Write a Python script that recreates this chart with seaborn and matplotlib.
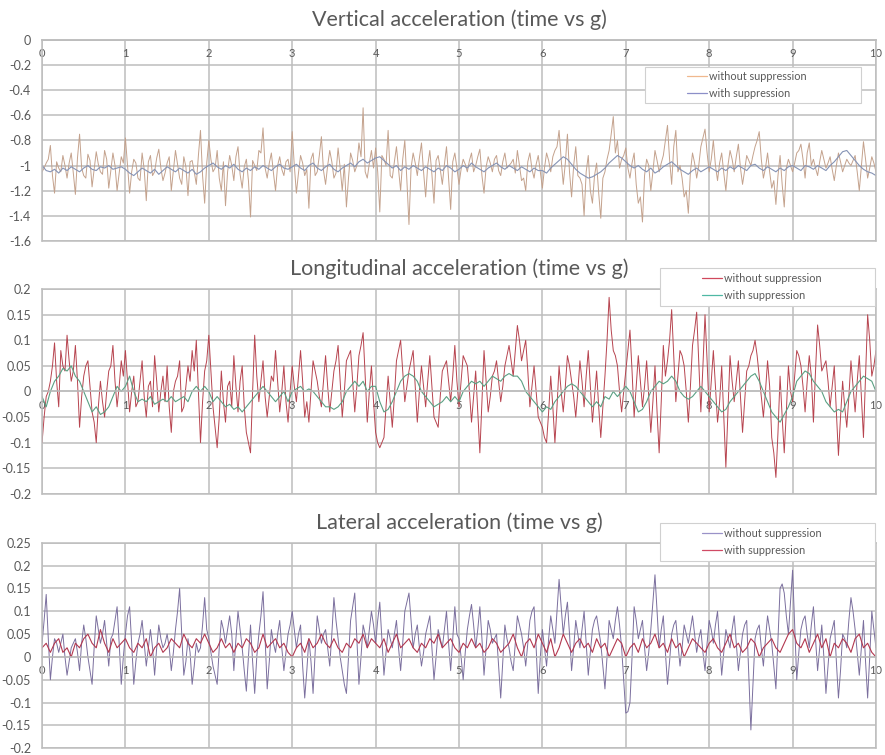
import numpy as np
import pandas as pd
import matplotlib
matplotlib.use("Agg")
import matplotlib.pyplot as plt
from matplotlib.patches import Rectangle
from matplotlib.lines import Line2D
import seaborn as sns

# ---------------- data ----------------
TIME_START, TIME_END = 0.0, 10.0
x_ticks = list(range(0, 11))
x_tick_labels = [str(v) for v in x_ticks]

titles = ["Vertical acceleration (time vs g)",
          "Longitudinal acceleration (time vs g)",
          "Lateral acceleration (time vs g)"]
series_names = ["without suppression", "with suppression"]

# "without" series: samples at every 0.05 s (main) and the in-between samples (mid)
vert_without = [
    -1.05, -0.98, -0.84, -1.22, -1.02, -0.92, -1.10, -0.90, -1.23, -0.75, -1.08, -0.91, -1.17, -0.89, -1.05, -0.88, -1.18, -0.90, -1.20, -0.93,
    -0.78, -1.22, -0.95, -1.10, -0.90, -1.28, -0.92, -1.05, -0.87, -1.12, -0.98, -1.20, -0.88, -1.10, -0.93, -1.24, -0.96, -1.15, -0.72, -1.30,
    -0.80, -1.05, -0.88, -1.20, -1.32, -0.92, -1.12, -0.85, -1.18, -0.95, -1.41, -1.00, -0.88, -0.70, -1.10, -0.90, -1.20, -0.93, -1.08, -0.95,
    -0.73, -1.22, -0.92, -1.08, -1.34, -0.90, -1.05, -0.77, -1.15, -0.88, -1.10, -0.86, -1.20, -1.33, -0.90, -1.05, -0.82, -0.54, -1.10, -0.88,
    -0.86, -1.37, -0.95, -0.72, -1.10, -0.85, -1.20, -0.80, -1.47, -0.90, -1.08, -0.82, -1.25, -0.88, -1.30, -0.92, -1.15, -0.85, -1.35, -0.90,
    -1.15, -0.95, -1.05, -0.90, -1.00, -0.87, -1.22, -0.93, -1.05, -0.92, -1.08, -0.90, -1.00, -0.95, -0.88, -1.12, -1.20, -0.90, -1.10, -0.92,
    -1.18, -0.90, -1.05, -0.88, -0.72, -1.15, -0.75, -1.25, -0.85, -1.10, -1.40, -0.92, -1.30, -0.98, -1.42, -1.05, -0.88, -0.61, -0.80, -0.95,
    -0.86, -1.10, -0.90, -1.30, -1.45, -0.95, -1.20, -0.88, -1.05, -0.92, -0.68, -1.15, -0.72, -1.00, -1.25, -1.38, -0.90, -1.10, -0.85, -0.71,
    -1.05, -0.80, -1.12, -0.90, -1.20, -0.88, -1.05, -0.83, -1.15, -0.92, -1.00, -0.85, -0.73, -1.10, -0.90, -1.18, -1.31, -0.92, -1.33, -0.95,
    -1.05, -0.90, -0.83, -1.10, -0.82, -0.95, -1.08, -0.88, -1.02, -0.93, -1.12, -0.90, -1.05, -0.95, -1.00, -0.92, -1.20, -0.81, -1.10, -0.93,
    -1.05]
vert_without_mid = [
    -1.02, -0.95, -1.08, -0.97, -1.05, -1.00, -0.98, -1.06, -0.94, -1.02, -1.10, -0.96, -1.03, -0.99, -1.07, -0.95, -1.04, -1.00, -1.06, -0.98,
    -1.00, -1.05, -0.98, -1.12, -1.03, -0.97, -1.08, -0.94, -1.02, -1.06, -0.93, -1.04, -0.99, -1.15, -1.01, -0.97, -1.05, -0.92, -1.08, -0.98,
    -0.95, -1.02, -1.10, -0.97, -1.05, -1.00, -0.93, -1.07, -1.01, -1.12, -0.96, -1.04, -0.90, -1.02, -0.98, -1.06, -1.00, -1.03, -0.97, -1.05,
    -1.00, -1.06, -0.98, -1.03, -0.95, -1.08, -0.92, -1.04, -1.00, -0.97, -1.06, -1.02, -0.99, -1.10, -0.96, -1.00, -0.93, -1.05, -0.98, -1.02,
    -1.05, -0.92, -1.00, -1.08, -0.97, -1.03, -0.95, -1.12, -1.02, -0.98, -0.94, -1.05, -1.00, -1.07, -0.96, -1.03, -0.99, -1.10, -0.97, -1.02,
    -1.03, -0.99, -0.96, -1.05, -0.93, -1.08, -1.01, -0.98, -0.95, -1.04, -0.97, -1.02, -0.98, -1.06, -1.00, -1.10, -0.97, -1.03, -0.99, -1.05,
    -1.02, -0.96, -0.93, -0.85, -0.95, -0.98, -1.05, -1.00, -1.08, -1.15, -1.05, -1.20, -1.08, -1.22, -1.10, -0.95, -0.75, -0.90, -1.02, -0.92,
    -1.02, -0.98, -1.15, -1.25, -1.08, -1.00, -1.05, -0.96, -0.98, -0.80, -0.95, -0.85, -1.05, -1.10, -1.20, -1.05, -0.98, -1.00, -0.78, -0.90,
    -0.95, -1.00, -0.98, -1.06, -1.00, -0.95, -0.93, -1.02, -1.04, -0.96, -0.92, -0.80, -0.95, -1.02, -1.05, -1.12, -1.08, -1.15, -1.02, -1.00,
    -0.98, -0.88, -0.95, -0.90, -1.00, -1.02, -0.97, -0.95, -0.98, -1.03, -1.00, -0.97, -1.00, -0.98, -0.96, -1.05, -1.00, -0.95, -1.02, -0.98]
vert_with = [
    -1.00, -1.04, -1.05, -1.03, -1.06, -1.02, -1.04, -1.01, -1.03, -1.05, -1.02, -1.00, -1.03, -1.04, -1.01, -1.02, -1.00, -1.03, -1.02, -1.01,
    -1.03, -1.06, -1.08, -1.05, -1.02, -1.04, -1.06, -1.03, -1.07, -1.04, -1.01, -1.03, -1.05, -1.02, -1.04, -1.06, -1.03, -1.07, -1.05, -1.02,
    -1.00, -0.98, -1.01, -1.03, -1.00, -1.02, -0.99, -1.03, -1.05, -1.02, -1.04, -1.01, -1.03, -1.00, -1.02, -1.04, -1.01, -0.99, -1.02, -1.03,
    -1.01, -0.99, -1.02, -1.04, -1.00, -0.98, -1.02, -1.04, -1.01, -0.99, -1.03, -1.05, -1.02, -1.00, -0.98, -1.01, -0.97, -0.95, -0.98, -0.96,
    -0.94, -0.93, -0.96, -0.99, -1.02, -1.00, -1.04, -1.01, -1.03, -1.00, -1.02, -1.04, -1.01, -1.03, -1.05, -1.02, -1.04, -1.00, -1.02, -1.05,
    -1.03, -1.00, -1.02, -0.98, -1.01, -1.03, -1.05, -1.02, -1.00, -0.98, -1.01, -1.03, -1.00, -1.02, -1.04, -1.01, -1.03, -1.05, -1.02, -1.04,
    -1.04, -1.06, -1.02, -0.99, -0.96, -0.93, -0.95, -0.99, -1.03, -1.06, -1.08, -1.10, -1.09, -1.07, -1.05, -1.02, -0.98, -0.95, -0.92, -0.94,
    -0.97, -1.00, -1.02, -1.00, -1.03, -1.05, -1.02, -1.06, -1.04, -1.01, -0.99, -0.97, -1.00, -1.03, -1.05, -1.07, -1.04, -1.02, -1.05, -1.03,
    -1.01, -1.03, -1.05, -1.02, -1.04, -1.01, -1.03, -1.00, -1.02, -1.04, -1.00, -0.99, -1.02, -1.04, -1.01, -1.03, -1.05, -1.02, -1.04, -1.01,
    -1.00, -1.02, -1.04, -1.00, -1.01, -1.03, -1.00, -1.02, -1.04, -1.00, -0.97, -0.93, -0.89, -0.88, -0.92, -0.96, -1.00, -1.03, -1.05, -1.06,
    -1.08]

long_without = [
    -0.10, -0.01, 0.02, 0.095, -0.03, 0.05, 0.11, 0.02, 0.09, -0.07, 0.03, 0.06, -0.04, -0.10, 0.02, -0.05, 0.04, 0.09, -0.03, 0.06,
    0.08, -0.04, 0.03, -0.02, 0.06, -0.05, 0.02, 0.07, -0.04, 0.03, 0.05, -0.08, 0.02, 0.06, -0.03, 0.05, 0.08, 0.10, -0.10, 0.04,
    0.11, -0.03, -0.11, 0.04, -0.06, 0.02, 0.07, -0.04, 0.05, -0.08, -0.12, 0.11, -0.02, 0.06, -0.05, 0.03, 0.08, -0.04, 0.05, -0.06,
    0.05, -0.02, 0.08, -0.05, -0.06, 0.06, 0.02, -0.03, 0.07, -0.04, 0.04, 0.09, -0.05, 0.06, 0.08, -0.04, 0.07, 0.115, -0.06, 0.05,
    -0.08, -0.11, -0.09, 0.03, -0.07, 0.06, 0.10, -0.02, 0.04, 0.08, -0.06, 0.05, -0.03, 0.07, -0.05, -0.07, 0.04, 0.06, -0.02, 0.09,
    -0.03, 0.07, 0.05, -0.06, 0.04, -0.12, 0.08, -0.04, 0.03, 0.06, -0.02, 0.05, 0.09, 0.03, 0.129, 0.06, 0.10, -0.03, 0.05, -0.05,
    -0.07, -0.10, 0.03, -0.10, 0.05, -0.04, 0.07, 0.02, -0.05, 0.06, -0.03, 0.08, -0.06, 0.04, -0.09, 0.03, 0.184, 0.08, 0.05, -0.04,
    0.04, 0.12, -0.05, 0.07, -0.03, 0.06, -0.08, 0.05, -0.12, 0.09, 0.06, 0.16, -0.02, 0.08, 0.05, -0.06, 0.09, 0.155, -0.04, 0.15,
    -0.04, 0.08, -0.06, 0.05, -0.148, 0.07, -0.02, 0.06, -0.08, 0.04, 0.07, 0.10, 0.03, -0.05, 0.06, -0.09, -0.168, 0.03, -0.12, 0.05,
    -0.02, 0.08, 0.05, -0.04, 0.07, -0.06, 0.13, 0.04, 0.06, -0.03, 0.05, -0.125, 0.02, -0.07, 0.06, -0.04, 0.07, -0.09, 0.15, 0.03,
    0.08]
long_without_mid = [
    -0.05, 0.00, 0.05, 0.02, 0.08, 0.04, 0.06, 0.04, 0.02, -0.01, 0.05, 0.01, -0.06, -0.03, -0.02, 0.00, 0.05, 0.02, 0.01, 0.03,
    0.02, 0.00, -0.03, 0.02, -0.01, 0.01, -0.03, 0.02, 0.00, -0.02, -0.03, 0.00, 0.03, -0.04, 0.01, 0.02, 0.04, 0.00, -0.02, 0.06,
    0.04, -0.07, -0.05, -0.02, 0.01, -0.03, 0.01, 0.02, -0.03, -0.10, 0.00, 0.03, 0.02, -0.01, -0.01, 0.02, 0.02, 0.00, -0.02, 0.00,
    0.01, 0.03, 0.02, -0.02, 0.00, 0.04, -0.01, 0.02, 0.01, 0.00, 0.06, 0.02, 0.00, 0.07, 0.02, 0.01, 0.09, 0.03, 0.00, -0.02,
    -0.10, -0.10, -0.03, -0.02, -0.01, 0.08, 0.04, 0.01, 0.06, 0.01, 0.00, 0.01, 0.02, 0.01, -0.06, -0.01, 0.05, 0.02, 0.03, 0.02,
    0.02, 0.06, 0.00, -0.01, -0.04, -0.02, 0.02, -0.01, 0.04, 0.02, 0.01, 0.07, 0.06, 0.08, 0.10, 0.08, 0.04, 0.01, 0.00, -0.06,
    -0.09, -0.04, -0.03, -0.03, 0.00, 0.01, 0.05, -0.01, 0.00, 0.02, 0.03, 0.01, -0.01, -0.03, -0.03, 0.10, 0.12, 0.07, 0.00, 0.00,
    0.08, 0.04, 0.01, 0.02, 0.01, -0.01, -0.02, -0.04, -0.02, 0.03, 0.10, 0.07, 0.03, 0.07, 0.00, 0.01, 0.12, 0.06, 0.05, 0.06,
    0.02, 0.01, -0.02, -0.05, -0.04, 0.02, 0.02, -0.01, -0.02, 0.05, 0.08, 0.07, -0.01, 0.00, 0.01, -0.12, -0.08, -0.05, -0.04, 0.00,
    0.03, 0.07, 0.01, 0.02, 0.03, 0.04, 0.09, 0.05, 0.02, 0.01, -0.04, -0.05, -0.03, -0.01, 0.01, 0.02, -0.01, 0.03, 0.10, 0.05]
long_with = [
    -0.01, -0.03, 0.00, 0.02, 0.03, 0.045, 0.04, 0.05, 0.03, 0.02, 0.00, -0.02, -0.04, -0.03, -0.045, -0.04, -0.03, -0.01, 0.01, 0.00,
    0.01, 0.03, 0.00, -0.02, -0.015, -0.02, -0.01, -0.025, -0.02, -0.015, -0.02, -0.01, -0.02, -0.015, -0.01, -0.02, 0.00, 0.01, 0.00, 0.01,
    0.00, -0.02, -0.01, -0.02, -0.03, -0.025, -0.035, -0.03, -0.04, -0.03, -0.02, -0.01, 0.00, 0.01, 0.00, -0.01, -0.02, -0.01, 0.00, -0.02,
    0.00, 0.005, 0.01, 0.00, 0.005, 0.00, -0.01, -0.02, -0.03, -0.03, -0.035, -0.03, -0.02, 0.00, 0.01, 0.02, 0.01, 0.02, 0.00, 0.01,
    0.01, -0.02, -0.04, -0.035, -0.02, 0.00, 0.02, 0.03, 0.035, 0.03, 0.02, 0.00, -0.01, -0.02, -0.03, -0.025, -0.02, -0.01, -0.02, -0.01,
    -0.02, 0.00, 0.01, 0.02, 0.015, 0.02, 0.01, 0.02, 0.03, 0.025, 0.02, 0.03, 0.035, 0.03, 0.03, 0.02, 0.00, -0.01, -0.02, -0.03,
    -0.04, -0.03, -0.035, -0.02, -0.01, 0.00, 0.01, 0.015, 0.01, 0.00, -0.01, -0.02, -0.03, -0.02, -0.03, -0.01, -0.015, 0.00, -0.01, 0.00,
    0.01, 0.00, -0.02, -0.04, -0.035, -0.02, 0.00, 0.01, 0.02, 0.015, 0.02, 0.03, 0.02, 0.00, -0.01, -0.015, -0.01, 0.00, 0.01, 0.00,
    -0.01, -0.02, -0.03, -0.04, -0.035, -0.02, -0.01, 0.00, 0.01, 0.02, 0.03, 0.035, 0.02, 0.00, -0.02, -0.04, -0.05, -0.06, -0.045, -0.03,
    -0.01, 0.02, 0.03, 0.04, 0.035, 0.02, 0.01, 0.00, -0.02, -0.03, -0.04, -0.035, -0.04, -0.02, 0.00, 0.01, 0.02, 0.03, 0.025, 0.02,
    0.00]

lat_without = [
    0.03, 0.137, -0.05, 0.04, 0.01, 0.05, -0.04, 0.02, 0.04, -0.03, 0.07, 0.00, -0.06, 0.09, 0.03, 0.08, -0.02, 0.05, 0.11, -0.06,
    0.05, 0.11, -0.06, 0.03, 0.08, -0.02, 0.06, -0.04, 0.07, 0.02, 0.05, -0.03, 0.06, 0.15, -0.04, 0.04, -0.06, 0.03, 0.02, 0.13,
    0.04, -0.02, -0.06, 0.08, 0.03, 0.09, -0.03, 0.10, 0.02, -0.075, 0.07, -0.08, 0.05, 0.143, -0.07, 0.06, 0.01, 0.08, -0.03, 0.05,
    0.10, 0.02, 0.07, -0.09, 0.04, -0.08, 0.09, 0.03, 0.06, -0.02, 0.13, 0.04, -0.03, -0.08, 0.08, 0.14, -0.06, 0.07, 0.02, 0.10,
    0.03, 0.12, -0.04, 0.06, 0.02, 0.08, -0.03, 0.10, 0.14, 0.02, 0.07, -0.02, 0.05, 0.09, -0.05, 0.06, 0.02, 0.10, -0.03, 0.11,
    0.04, -0.05, 0.06, 0.115, 0.02, 0.11, -0.04, 0.08, 0.03, 0.05, -0.09, 0.07, 0.02, -0.03, 0.09, 0.05, -0.02, 0.08, 0.11, -0.08,
    0.06, -0.02, 0.09, 0.03, 0.17, 0.05, 0.12, -0.03, 0.08, 0.02, 0.10, -0.04, 0.06, 0.09, 0.03, -0.07, 0.08, 0.04, 0.11, 0.02,
    -0.123, -0.10, 0.11, 0.04, 0.08, -0.03, 0.06, 0.18, 0.02, 0.09, -0.06, 0.05, 0.08, -0.02, 0.07, 0.03, 0.09, 0.01, 0.06, -0.03,
    0.08, 0.03, 0.10, -0.04, 0.06, 0.02, 0.09, -0.03, 0.05, 0.08, -0.16, 0.04, 0.07, -0.02, 0.09, 0.03, -0.07, 0.15, 0.14, 0.05,
    0.19, -0.05, 0.06, 0.09, 0.02, 0.11, -0.03, 0.07, -0.08, 0.04, 0.08, -0.09, 0.05, 0.02, 0.13, 0.06, -0.04, 0.08, -0.09, 0.10,
    0.02]
lat_without_mid = [
    0.08, 0.04, 0.00, 0.03, 0.03, 0.00, -0.01, 0.03, 0.01, 0.03, 0.04, -0.03, 0.02, 0.06, 0.05, 0.03, 0.04, 0.08, 0.03, 0.00,
    0.09, 0.03, -0.01, 0.05, 0.03, 0.02, 0.02, 0.02, 0.04, 0.03, 0.02, 0.01, 0.10, 0.05, -0.01, 0.01, -0.02, 0.01, 0.07, 0.06,
    0.01, -0.04, 0.02, 0.06, 0.06, 0.05, 0.04, 0.06, -0.03, 0.00, -0.01, 0.00, 0.09, 0.04, -0.01, 0.03, 0.05, 0.02, 0.01, 0.07,
    0.06, 0.05, -0.02, -0.03, -0.01, 0.01, 0.06, 0.05, 0.02, 0.05, 0.08, 0.00, -0.06, 0.00, 0.11, 0.04, 0.00, 0.05, 0.06, 0.07,
    0.08, 0.04, 0.01, 0.04, 0.05, 0.02, 0.03, 0.12, 0.08, 0.05, 0.02, 0.01, 0.07, 0.02, 0.00, 0.04, 0.06, 0.03, 0.04, 0.05,
    0.00, 0.01, 0.09, 0.07, 0.06, 0.04, 0.02, 0.06, 0.04, -0.02, -0.01, 0.04, -0.01, 0.03, 0.07, 0.02, 0.03, 0.10, 0.02, 0.00,
    0.02, 0.04, 0.06, 0.10, 0.11, 0.09, 0.05, 0.02, 0.05, 0.06, 0.03, 0.01, 0.08, 0.06, -0.02, 0.00, 0.06, 0.08, 0.07, -0.05,
    -0.12, 0.00, 0.08, 0.06, 0.02, 0.01, 0.12, 0.10, 0.06, 0.01, -0.01, 0.07, 0.03, 0.02, 0.05, 0.06, 0.05, 0.04, 0.01, 0.03,
    0.06, 0.07, 0.03, 0.01, 0.04, 0.06, 0.03, 0.01, 0.07, -0.04, -0.06, 0.06, 0.02, 0.04, 0.06, -0.02, 0.04, 0.16, 0.09, 0.12,
    0.07, 0.01, 0.08, 0.05, 0.07, 0.04, 0.02, 0.00, -0.02, 0.06, -0.01, -0.03, 0.04, 0.08, 0.10, 0.01, 0.02, -0.01, 0.00, 0.06]
lat_with = [
    0.02, 0.03, 0.01, 0.03, 0.04, 0.01, 0.02, 0.00, 0.03, 0.02, 0.04, 0.05, 0.03, 0.02, 0.06, 0.03, 0.01, 0.04, 0.02, 0.03,
    0.04, 0.02, 0.01, 0.03, 0.02, 0.04, 0.00, 0.02, 0.03, 0.01, 0.02, 0.04, 0.03, 0.02, 0.05, 0.03, 0.02, 0.04, 0.03, 0.05,
    0.03, 0.01, 0.02, 0.04, 0.02, 0.03, 0.01, 0.03, 0.02, 0.04, 0.03, 0.01, 0.02, 0.05, 0.02, 0.03, 0.04, 0.02, 0.03, 0.01,
    0.00, 0.02, 0.03, 0.01, 0.04, 0.02, 0.03, 0.05, 0.03, 0.02, 0.04, 0.02, 0.01, 0.03, 0.02, 0.04, 0.03, 0.05, 0.02, 0.04,
    0.03, 0.02, 0.04, 0.01, 0.03, 0.05, 0.02, 0.03, 0.04, 0.02, 0.01, 0.03, 0.02, 0.04, 0.03, 0.05, 0.02, 0.03, 0.04, 0.02,
    0.01, 0.03, 0.02, 0.04, 0.02, 0.03, 0.01, 0.02, 0.04, 0.03, 0.01, 0.02, 0.03, 0.05, 0.02, 0.00, 0.03, 0.04, 0.02, 0.05,
    0.03, 0.01, 0.04, 0.00, 0.02, 0.05, 0.03, 0.01, 0.03, 0.04, 0.02, 0.03, 0.01, 0.04, 0.02, 0.03, 0.00, 0.02, 0.04, 0.03,
    0.00, 0.02, 0.03, 0.01, 0.04, 0.02, 0.03, 0.05, 0.02, 0.03, 0.01, 0.04, 0.02, 0.03, 0.00, 0.02, 0.04, 0.03, 0.02, 0.01,
    0.03, 0.04, 0.02, 0.01, 0.03, 0.05, 0.02, 0.03, 0.01, 0.02, 0.04, 0.03, 0.00, 0.02, 0.03, 0.04, 0.02, 0.01, 0.03, 0.05,
    0.06, 0.03, 0.02, 0.04, 0.01, 0.03, 0.05, 0.02, 0.04, 0.00, 0.03, 0.02, 0.04, 0.03, 0.01, 0.04, 0.05, 0.02, 0.03, 0.01,
    0.00]

vert_yticks = [0, -0.2, -0.4, -0.6, -0.8, -1, -1.2, -1.4, -1.6]
vert_ylabels = ["0", "-0.2", "-0.4", "-0.6", "-0.8", "-1", "-1.2", "-1.4", "-1.6"]
long_yticks = [0.2, 0.15, 0.1, 0.05, 0, -0.05, -0.1, -0.15, -0.2]
long_ylabels = ["0.2", "0.15", "0.1", "0.05", "0", "-0.05", "-0.1", "-0.15", "-0.2"]
lat_yticks = [0.25, 0.2, 0.15, 0.1, 0.05, 0, -0.05, -0.1, -0.15, -0.2]
lat_ylabels = ["0.25", "0.2", "0.15", "0.1", "0.05", "0", "-0.05", "-0.1", "-0.15", "-0.2"]


def interleave(main, mid):
    out = np.empty(len(main) + len(mid))
    out[0::2] = main
    out[1::2] = mid
    return out


# ---------------- style ----------------
sns.set_style("white")
plt.rcParams['font.family'] = ['Lato', 'DejaVu Sans']
TXT = '#595959'
GRID = '#bdbdbd'

fig = plt.figure(figsize=(8.85, 7.55), dpi=100)

panels = [
    dict(title=titles[0], wo=interleave(vert_without, vert_without_mid), w=vert_with,
         yt=vert_yticks, yl=vert_ylabels,
         ylim=(-1.6, 0), rect=[0.0475, 0.681, 0.9423, 0.266],
         colors=('#c4a28d', '#8593b5'), legcolors=('#f0b88e', '#8c8fc8'),
         box=(0.723, 0.687, 0.982, 0.866)),
    dict(title=titles[1], wo=interleave(long_without, long_without_mid), w=long_with,
         yt=long_yticks, yl=long_ylabels,
         ylim=(-0.2, 0.2), rect=[0.0475, 0.346, 0.9423, 0.271],
         colors=('#b7444f', '#5aa083'), legcolors=('#d0485c', '#4fb8a4'),
         box=(0.741, 0.917, 0.999, 1.102)),
    dict(title=titles[2], wo=interleave(lat_without, lat_without_mid), w=lat_with,
         yt=lat_yticks, yl=lat_ylabels,
         ylim=(-0.2, 0.25), rect=[0.0475, 0.009, 0.9423, 0.272],
         colors=('#7b6f9e', '#b2374f'), legcolors=('#9a92c8', '#d04a64'),
         box=(0.741, 0.912, 0.999, 1.098)),
]

for p in panels:
    ax = fig.add_axes(p['rect'])
    t_wo = np.linspace(TIME_START, TIME_END, len(p['wo']))
    t_w = np.linspace(TIME_START, TIME_END, len(p['w']))
    df_wo = pd.DataFrame({'t': t_wo, 'g': p['wo']})
    df_w = pd.DataFrame({'t': t_w, 'g': p['w']})
    sns.lineplot(data=df_wo, x='t', y='g', ax=ax, color=p['colors'][0], lw=0.7, legend=False)
    sns.lineplot(data=df_w, x='t', y='g', ax=ax, color=p['colors'][1], lw=0.8, legend=False)
    ax.set_xlim(0, 10)
    ax.set_ylim(*p['ylim'])
    ax.set_xticks(x_ticks)
    ax.set_xticklabels(x_tick_labels)
    ax.set_yticks(p['yt'])
    ax.set_yticklabels(p['yl'])
    ax.set_xlabel('')
    ax.set_ylabel('')
    ax.set_axisbelow(True)
    ax.grid(True, color=GRID, lw=1.1)
    for s in ['left', 'right', 'top', 'bottom']:
        ax.spines[s].set_color(GRID)
        ax.spines[s].set_linewidth(1.1)
    ax.spines['bottom'].set_position(('data', 0))
    ax.axhline(p['ylim'][0], color=GRID, lw=1.1, clip_on=False, zorder=0.5)
    ax.tick_params(axis='x', length=0, colors=TXT, labelsize=8, pad=6)
    ax.tick_params(axis='y', length=0, colors=TXT, labelsize=9, pad=8)
    ax.set_title(p['title'], fontsize=15.5, color=TXT, pad=10)

    x0, y0, x1, y1 = p['box']
    ax.add_patch(Rectangle((x0, y0), x1 - x0, y1 - y0, transform=ax.transAxes,
                           facecolor='white', edgecolor='#d0d0d0', lw=0.8,
                           clip_on=False, zorder=4.5))
    handles = [Line2D([], [], color=p['legcolors'][0], lw=0.9),
               Line2D([], [], color=p['legcolors'][1], lw=0.9)]
    leg = ax.legend(handles, series_names, loc='center left',
                    bbox_to_anchor=(x0 + 0.05, (y0 + y1) / 2),
                    frameon=False, fontsize=7.8, handlelength=1.9,
                    handletextpad=0.2, labelspacing=0.55, borderpad=0,
                    borderaxespad=0)
    leg.set_zorder(5)
    for txt in leg.get_texts():
        txt.set_color(TXT)

fig.savefig('out.png', dpi=100)
